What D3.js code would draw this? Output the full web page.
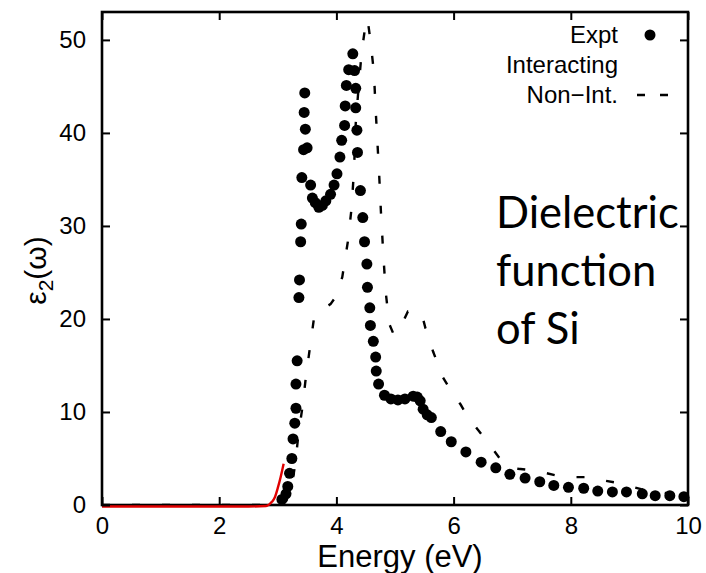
<!DOCTYPE html>
<html><head><meta charset="utf-8">
<script src="https://cdn.jsdelivr.net/npm/d3@7"></script>
<style>body{margin:0;background:#fff;} svg{display:block;}</style>
</head><body>
<script>
// Experimental points (energy eV, eps2)
const exptE = [3.07,3.14,3.17,3.20,3.24,3.26,3.29,3.31,3.31,3.33,3.36,3.37,3.39,3.40,3.41,3.44,3.45,3.46,3.47,3.50,3.56,3.59,3.64,3.70,3.76,3.82,3.90,3.96,4.01,4.06,4.09,4.14,4.15,4.17,4.21,4.28,4.31,4.33,4.33,4.35,4.36,4.41,4.45,4.48,4.52,4.53,4.57,4.58,4.63,4.67,4.68,4.72,4.82,4.93,5.05,5.17,5.31,5.38,5.43,5.48,5.55,5.62,5.78,5.96,6.21,6.47,6.72,6.96,7.22,7.47,7.71,7.96,8.22,8.46,8.71,8.95,9.22,9.44,9.69,9.93];
const exptV = [0.6,1.2,2.0,3.4,5.0,7.1,8.8,10.4,13.0,15.5,22.3,24.2,28.3,30.2,35.2,38.2,42.2,44.3,40.4,38.4,34.4,33.0,32.5,32.0,32.2,32.7,33.4,34.4,35.6,37.4,39.2,40.8,42.9,45.1,46.8,48.5,46.7,44.8,42.7,40.3,37.9,33.8,30.9,28.3,25.9,23.4,21.2,19.3,17.6,15.9,14.4,13.0,11.8,11.4,11.3,11.4,11.7,11.6,11.2,10.3,9.7,9.4,7.9,6.8,5.7,4.6,4.0,3.3,2.9,2.5,2.1,1.9,1.8,1.5,1.4,1.4,1.2,1.0,1.0,0.9];
// Interacting (red line)
const interE = [0,1,2,2.5,2.8,2.85,2.9,2.95,3.0,3.05,3.1];
const interV = [0,0,0,0,0.05,0.2,0.5,1.0,2.0,3.2,4.6];
// Non-interacting (dashed line)
const nonE = [0,3.0,3.15,3.25,3.3,3.35,3.42,3.48,3.55,3.62,3.75,3.9,3.98,4.1,4.2,4.26,4.3,4.33,4.38,4.43,4.5,4.53,4.58,4.64,4.67,4.7,4.73,4.76,4.8,4.84,4.9,4.98,5.1,5.22,5.45,5.52,5.65,5.82,6.0,6.12,6.25,6.55,6.86,7.1,7.4,7.8,8.0,8.34,8.6,8.86,9.2,9.6,10];
const nonV = [0,0,0.5,2.5,4.5,7.5,10.5,13.8,17,20.2,21,21.6,22.3,24.5,28.5,32,36,41,45,48.6,51.8,52.3,50,46.5,42.5,39,35.5,31.5,27,23,19.5,18.3,19.2,20.8,20.7,19,16.5,13.7,11.8,10.8,9.4,7.0,4.4,3.9,3.7,3.1,3.0,3.0,2.6,2.3,1.7,1.3,1.0];
const xTicks = [0,2,4,6,8,10];
const yTicks = [0,10,20,30,40,50];
const legendLabels = ["Expt","Interacting","Non\u2212Int."];
const noteLines = ["Dielectric","function","of Si"];

const W=706,H=573;
const L=102,R=688,T=12,B=505;
const svg=d3.select("body").append("svg").attr("width",W).attr("height",H);
const x=d3.scaleLinear().domain([0,10]).range([L,R]);
const y=d3.scaleLinear().domain([0,53]).range([B,T]);
const font="'Liberation Sans', Arial, Helvetica, sans-serif";

// lines
const line=d3.line().x(d=>x(d[0])).y(d=>y(d[1]));
svg.append("path").datum(nonE.map((e,i)=>[e,nonV[i]]))
  .attr("d",line).attr("fill","none").attr("stroke","#000").attr("stroke-width",2.4)
  .attr("stroke-dasharray","8,22");
svg.append("g").selectAll("circle").data(exptE.map((e,i)=>[e,exptV[i]])).join("circle")
  .attr("cx",d=>x(d[0])).attr("cy",d=>y(d[1])).attr("r",5.5).attr("fill","#000");

// frame
svg.append("rect").attr("x",L).attr("y",T).attr("width",R-L).attr("height",B-T)
  .attr("fill","none").attr("stroke","#000").attr("stroke-width",2.6);
svg.append("path").datum(interE.map((e,i)=>[e,interV[i]]))
  .attr("d",d3.line().x(d=>x(d[0])).y(d=>y(d[1])+1.5).curve(d3.curveMonotoneX))
  .attr("fill","none").attr("stroke","#e00000").attr("stroke-width",2.4);

// axes with inward ticks
const ax=d3.axisBottom(x).tickValues(xTicks).tickSize(-8).tickPadding(12).tickFormat(d3.format("d"));
const gx=svg.append("g").attr("transform",`translate(0,${B})`).call(ax);
const ay=d3.axisLeft(y).tickValues(yTicks).tickSize(-8).tickPadding(16).tickFormat(d3.format("d"));
const gy=svg.append("g").attr("transform",`translate(${L},0)`).call(ay);
const axT=d3.axisTop(x).tickValues(xTicks).tickSize(-8).tickFormat("");
const gt=svg.append("g").attr("transform",`translate(0,${T})`).call(axT);
const axR=d3.axisRight(y).tickValues(yTicks).tickSize(-8).tickFormat("");
const gr=svg.append("g").attr("transform",`translate(${R},0)`).call(axR);
[gx,gy,gt,gr].forEach(g=>{g.select(".domain").remove();
  g.selectAll(".tick line").attr("stroke","#000").attr("stroke-width",2);
  g.selectAll("text").attr("font-family",font).attr("font-size",24).attr("fill","#000");});
gx.selectAll("text").attr("dy","0.71em");

// axis titles
svg.append("text").attr("x",(L+R)/2+5).attr("y",567).attr("text-anchor","middle")
  .attr("font-family",font).attr("font-size",31).text("Energy (eV)");
const yl=svg.append("text").attr("transform",`translate(46,${(T+B)/2+12}) rotate(-90)`)
  .attr("text-anchor","middle").attr("font-family",font).attr("font-size",30);
yl.append("tspan").text("\u03b5");
yl.append("tspan").attr("font-size",21).attr("dy",7).text("2");
yl.append("tspan").attr("dy",-7).text("(\u03c9)");

// legend
const lg=svg.append("g").attr("font-family",font).attr("font-size",24);
legendLabels.forEach((t,i)=>{
  lg.append("text").attr("x",618).attr("y",43+i*30).attr("text-anchor","end").text(t);
});
lg.append("circle").attr("cx",650).attr("cy",35).attr("r",5.5).attr("fill","#000");
lg.append("line").attr("x1",637).attr("x2",668).attr("y1",95).attr("y2",95)
  .attr("stroke","#000").attr("stroke-width",2.4).attr("stroke-dasharray","8,15");

// note
const nt=svg.append("g").attr("font-family","Lato, 'Open Sans', sans-serif").attr("font-size",43.5).attr("fill","#000");
noteLines.forEach((t,i)=>nt.append("text").attr("x",496).attr("y",228+i*58).text(t));
</script>
</body></html>
